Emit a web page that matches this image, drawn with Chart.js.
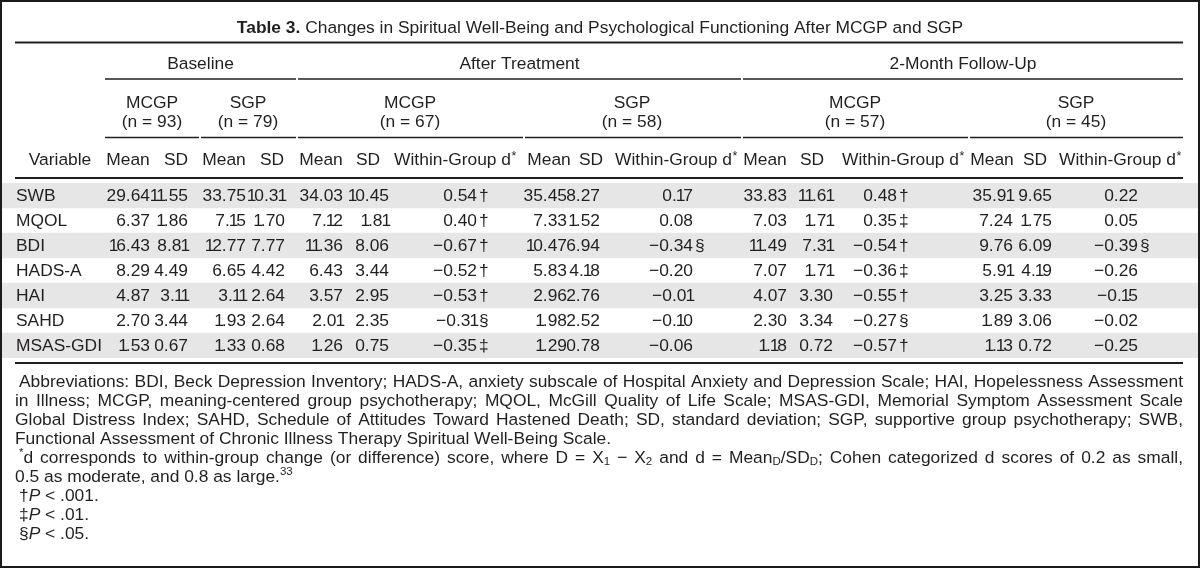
<!DOCTYPE html>
<html><head><meta charset="utf-8">
<script src="https://cdn.jsdelivr.net/npm/chart.js@4.4.1/dist/chart.umd.min.js"></script>
<style>html,body{margin:0;padding:0;background:#fff;}canvas{display:block;}</style>
</head><body>
<canvas id="c" width="1200" height="568"></canvas>
<script>
// ---------------- data ----------------
const variables = ['SWB','MQOL','BDI','HADS-A','HAI','SAHD','MSAS-GDI'];
const baselineMcgpMean = [29.64, 6.37, 16.43, 8.29, 4.87, 2.70, 1.53];
const baselineMcgpSD   = [11.55, 1.86, 8.81, 4.49, 3.11, 3.44, 0.67];
const baselineSgpMean  = [33.75, 7.15, 12.77, 6.65, 3.11, 1.93, 1.33];
const baselineSgpSD    = [10.31, 1.70, 7.77, 4.42, 2.64, 2.64, 0.68];
const afterMcgpMean = [34.03, 7.12, 11.36, 6.43, 3.57, 2.01, 1.26];
const afterMcgpSD   = [10.45, 1.81, 8.06, 3.44, 2.95, 2.35, 0.75];
const afterMcgpD    = [0.54, 0.40, -0.67, -0.52, -0.53, -0.31, -0.35];
const afterMcgpSig  = ['†','†','†','†','†','§','‡'];
const afterSgpMean = [35.45, 7.33, 10.47, 5.83, 2.96, 1.98, 1.29];
const afterSgpSD   = [8.27, 1.52, 6.94, 4.18, 2.76, 2.52, 0.78];
const afterSgpD    = [0.17, 0.08, -0.34, -0.20, -0.01, -0.10, -0.06];
const afterSgpSig  = ['','','§','','','',''];
const followMcgpMean = [33.83, 7.03, 11.49, 7.07, 4.07, 2.30, 1.18];
const followMcgpSD   = [11.61, 1.71, 7.31, 1.71, 3.30, 3.34, 0.72];
const followMcgpD    = [0.48, 0.35, -0.54, -0.36, -0.55, -0.27, -0.57];
const followMcgpSig  = ['†','‡','†','‡','†','§','†'];
const followSgpMean = [35.91, 7.24, 9.76, 5.91, 3.25, 1.89, 1.13];
const followSgpSD   = [9.65, 1.75, 6.09, 4.19, 3.33, 3.06, 0.72];
const followSgpD    = [0.22, 0.05, -0.39, -0.26, -0.15, -0.02, -0.25];
const followSgpSig  = ['','','§','','','',''];
const timepoints = ['Baseline','After Treatment','2-Month Follow-Up'];
const groupNames = ['MCGP','SGP','MCGP','SGP','MCGP','SGP'];
const groupN = [93, 79, 67, 58, 57, 45];
const statHeaders = ['Variable','Mean','SD','Within-Group d'];
const titleBold = 'Table 3.';
const titleText = ' Changes in Spiritual Well-Being and Psychological Functioning After MCGP and SGP';

// ---------------- layout (positions on the x scale, 0..1200) ----------------
const FAMILY = '"Liberation Sans", Arial, sans-serif';
const FS = 17.4;
const INK = '#231f20';
const TABLE_L = 15, TABLE_R = 1183;
const BAND_L = 2, BAND_R = 1198;
const ROW_TOP = 183, ROW_H = 25;
const numCols = [
  {v: baselineMcgpMean, r: 150}, {v: baselineMcgpSD, r: 188},
  {v: baselineSgpMean, r: 246},  {v: baselineSgpSD, r: 285},
  {v: afterMcgpMean, r: 343},    {v: afterMcgpSD, r: 389},
  {v: afterMcgpD, r: 477, sig: afterMcgpSig},
  {v: afterSgpMean, r: 567},     {v: afterSgpSD, r: 600},
  {v: afterSgpD, r: 693, sig: afterSgpSig},
  {v: followMcgpMean, r: 787},   {v: followMcgpSD, r: 833},
  {v: followMcgpD, r: 897, sig: followMcgpSig},
  {v: followSgpMean, r: 1013},   {v: followSgpSD, r: 1052},
  {v: followSgpD, r: 1138, sig: followSgpSig}
];
const headCells = [[0,60],[1,128],[2,176],[1,224],[2,272],[1,321],[2,368],[3,455],
  [1,549],[2,591],[3,676],[1,765],[2,812],[3,903],[1,992],[2,1035],[3,1120]];
const timeSpans = [[105,296],[298,741],[743,1183]];
const groupSpans = [[105,199],[201,296],[298,523],[525,741],[743,968],[970,1183]];
const groupCenters = [152,248,410,632,855,1076];

const footLines = [
  {x: 19, j: true, runs: [{t:'Abbreviations: BDI, Beck Depression Inventory; HADS-A, anxiety subscale of Hospital Anxiety and Depression Scale; HAI, Hopelessness Assessment'}]},
  {x: 15, j: true, runs: [{t:'in Illness; MCGP, meaning-centered group psychotherapy; MQOL, McGill Quality of Life Scale; MSAS-GDI, Memorial Symptom Assessment Scale'}]},
  {x: 15, j: true, runs: [{t:'Global Distress Index; SAHD, Schedule of Attitudes Toward Hastened Death; SD, standard deviation; SGP, supportive group psychotherapy; SWB,'}]},
  {x: 15, j: false, runs: [{t:'Functional Assessment of Chronic Illness Therapy Spiritual Well-Being Scale.'}]},
  {x: 19, j: true, runs: [{t:'*', s:'sup'},{t:'d corresponds to within-group change (or difference) score, where D = X'},{t:'1', s:'sub'},{t:' − X'},{t:'2', s:'sub'},{t:' and d = Mean'},{t:'D', s:'sub'},{t:'/SD'},{t:'D', s:'sub'},{t:'; Cohen categorized d scores of 0.2 as small,'}]},
  {x: 15, j: false, runs: [{t:'0.5 as moderate, and 0.8 as large.'},{t:'33', s:'sup'}]},
  {x: 19, j: false, runs: [{t:'†'},{t:'P', s:'i'},{t:' < .001.'}]},
  {x: 19, j: false, runs: [{t:'‡'},{t:'P', s:'i'},{t:' < .01.'}]},
  {x: 19, j: false, runs: [{t:'§'},{t:'P', s:'i'},{t:' < .05.'}]}
];
const FOOT_Y0 = 382, FOOT_DY = 19;

function fmt(v){ return (v < 0 ? '−' : '') + Math.abs(v).toFixed(2); }
function fontFor(s){
  const small = (s === 'sub' || s === 'sup');
  return (s === 'i' ? 'italic ' : '') + (small ? 11.5 : FS) + 'px ' + FAMILY;
}
// numbers use proportional figures (narrower "1") like the original typesetting
function drawNumRight(ctx, str, right, y){
  ctx.textAlign = 'left';
  const oneAdv = FS * 0.38, oneShift = -FS * 0.05;
  const ws = [...str].map(c => c === '1' ? oneAdv : ctx.measureText(c).width);
  let cx = right - ws.reduce((a, b) => a + b, 0);
  [...str].forEach((c, k) => {
    ctx.fillText(c, cx + (c === '1' ? oneShift : 0), y);
    cx += ws[k];
  });
}
function drawRuns(ctx, runs, x, y, toX){
  let natural = 0, spaces = 0;
  runs.forEach(r => { ctx.font = fontFor(r.s); natural += ctx.measureText(r.t).width; spaces += (r.t.match(/ /g) || []).length; });
  const extra = (toX && spaces) ? (toX - x - natural) / spaces : 0;
  let cx = x;
  runs.forEach(r => {
    ctx.font = fontFor(r.s);
    const dy = r.s === 'sub' ? 4 : (r.s === 'sup' ? -5 : 0);
    const parts = r.t.split(' ');
    parts.forEach((p, k) => {
      if (p) { ctx.fillText(p, cx, y + dy); cx += ctx.measureText(p).width; }
      if (k < parts.length - 1) cx += ctx.measureText(' ').width + extra;
    });
  });
}
function hline(ctx, x0, x1, y, w){
  ctx.beginPath(); ctx.lineWidth = w; ctx.strokeStyle = INK;
  ctx.moveTo(x0, y); ctx.lineTo(x1, y); ctx.stroke();
}

const tablePlugin = {
  id: 'tableText',
  afterDatasetsDraw(chart){
    const ctx = chart.ctx, xs = chart.scales.x, ys = chart.scales.y;
    const X = v => xs.getPixelForValue(v);
    ctx.save();
    ctx.fillStyle = INK;
    ctx.textBaseline = 'middle';
    ctx.lineWidth = 2; ctx.strokeStyle = '#1a1a1a';
    ctx.strokeRect(1, 1, chart.width - 2, chart.height - 2);
    // title
    ctx.font = 'bold ' + FS + 'px ' + FAMILY;
    const wb = ctx.measureText(titleBold).width;
    ctx.font = FS + 'px ' + FAMILY;
    const wt = ctx.measureText(titleText).width;
    const tx = X(600) - (wb + wt) / 2;
    ctx.textAlign = 'left';
    ctx.font = 'bold ' + FS + 'px ' + FAMILY;
    ctx.fillText(titleBold, tx, 28);
    ctx.font = FS + 'px ' + FAMILY;
    ctx.fillText(titleText, tx + wb, 28);
    hline(ctx, X(TABLE_L), X(TABLE_R), 42.5, 2);
    ctx.textAlign = 'center';
    timeSpans.forEach((s, i) => {
      ctx.fillText(timepoints[i], X((s[0] + s[1]) / 2), 64);
      hline(ctx, X(s[0]), X(s[1]), 79, 1.3);
    });
    groupSpans.forEach((s, i) => {
      ctx.fillText(groupNames[i], X(groupCenters[i]), 103);
      ctx.fillText('(n = ' + groupN[i] + ')', X(groupCenters[i]), 122);
      hline(ctx, X(s[0]), X(s[1]), 137.5, 1.3);
    });
    headCells.forEach(([k, c]) => {
      ctx.font = FS + 'px ' + FAMILY;
      if (k === 3) {
        const w = ctx.measureText(statHeaders[k]).width;
        ctx.font = '12.5px ' + FAMILY;
        const ws = ctx.measureText('*').width;
        const x0 = X(c) - (w + ws) / 2;
        ctx.textAlign = 'left';
        ctx.font = FS + 'px ' + FAMILY;
        ctx.fillText(statHeaders[k], x0, 160);
        ctx.font = '12.5px ' + FAMILY;
        ctx.fillText('*', x0 + w + 0.5, 157);
        ctx.textAlign = 'center';
      } else {
        ctx.textAlign = 'center';
        ctx.fillText(statHeaders[k], X(c), 160);
      }
    });
    hline(ctx, X(TABLE_L), X(TABLE_R), 178, 2.2);
    // body cells
    ctx.font = FS + 'px ' + FAMILY;
    variables.forEach((name, i) => {
      const y = ys.getPixelForValue(i) + 0.5;
      ctx.textAlign = 'left';
      ctx.fillText(name, X(16), y);
      numCols.forEach(col => {
        drawNumRight(ctx, fmt(col.v[i]), X(col.r), y);
        if (col.sig && col.sig[i]) {
          ctx.textAlign = 'left';
          ctx.fillText(col.sig[i], X(col.r) + 2, y);
        }
      });
    });
    hline(ctx, X(TABLE_L), X(TABLE_R), chart.chartArea.bottom + 5, 2.2);
    ctx.textAlign = 'left';
    footLines.forEach((ln, k) => {
      drawRuns(ctx, ln.runs, X(ln.x), FOOT_Y0 + k * FOOT_DY, ln.j ? X(TABLE_R) : null);
    });
    ctx.restore();
  }
};

new Chart(document.getElementById('c'), {
  type: 'bar',
  data: {
    labels: variables,
    datasets: [{
      label: 'band',
      data: variables.map((v, i) => i % 2 === 0 ? [BAND_L, BAND_R] : null),
      backgroundColor: '#e6e6e6',
      borderWidth: 0,
      barPercentage: 1.0,
      categoryPercentage: 1.0
    }]
  },
  options: {
    indexAxis: 'y',
    responsive: false,
    animation: false,
    devicePixelRatio: 1,
    layout: { padding: { left: 0, right: 0, top: ROW_TOP, bottom: 568 - ROW_TOP - ROW_H * variables.length } },
    plugins: { legend: { display: false }, tooltip: { enabled: false }, title: { display: false } },
    scales: {
      x: { type: 'linear', min: 0, max: 1200, display: false },
      y: { type: 'category', display: false, offset: true }
    }
  },
  plugins: [tablePlugin]
});
</script>
</body></html>
